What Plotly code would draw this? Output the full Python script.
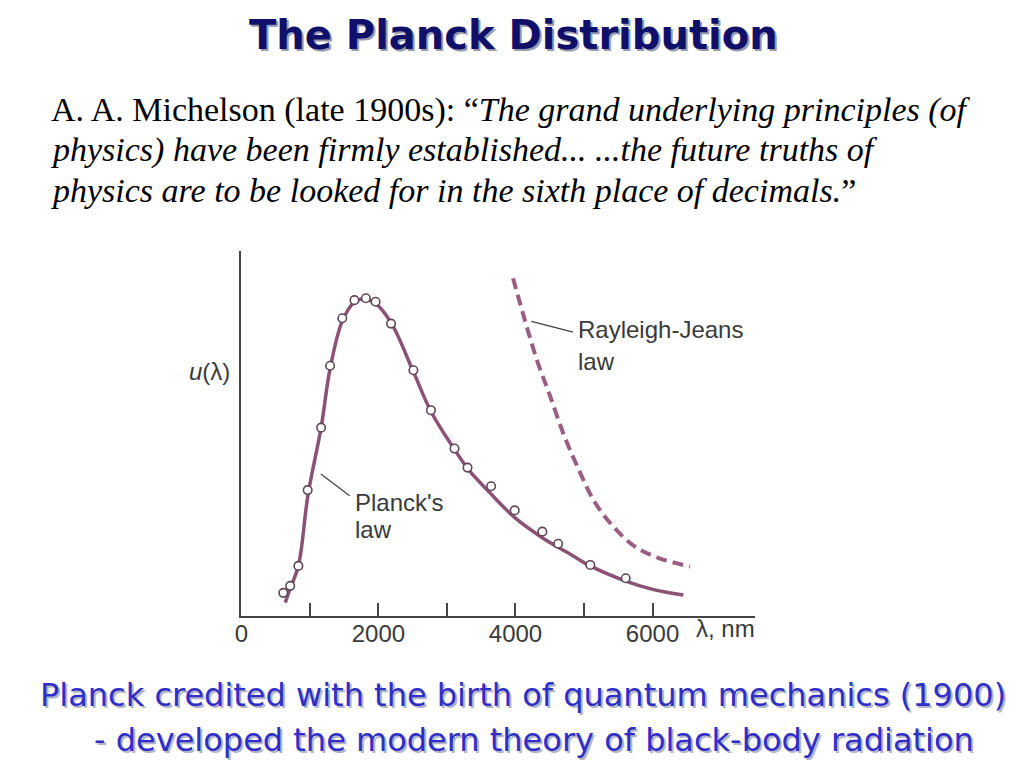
import plotly.graph_objects as go

# ---- data ----
obs_lambda = [611, 712, 831, 967, 1163, 1294, 1472, 1650, 1816, 1958, 2184, 2510,
              2766, 3110, 3300, 3644, 3988, 4392, 4623, 5092, 5608]
obs_u = [0.073, 0.095, 0.158, 0.397, 0.594, 0.789, 0.939, 0.996, 1.002, 0.991, 0.922,
         0.775, 0.649, 0.528, 0.468, 0.409, 0.333, 0.266, 0.228, 0.161, 0.119]

planck_lambda = [640, 700, 833, 970, 1163, 1294, 1472, 1650, 1800, 1960, 2184, 2510,
                 2766, 3110, 3320, 3620, 3990, 4390, 4800, 5090, 5610, 6000, 6450]
planck_u = [0.042, 0.08, 0.16, 0.38, 0.594, 0.78, 0.93, 0.99, 1.0, 0.985, 0.925, 0.77,
            0.645, 0.525, 0.46, 0.39, 0.31, 0.247, 0.195, 0.158, 0.110, 0.084, 0.066]

rj_lambda = [3964, 4142, 4320, 4499, 4706, 4914, 5151, 5448, 5745, 6101, 6546]
rj_u = [1.065, 0.929, 0.802, 0.697, 0.571, 0.466, 0.361, 0.277, 0.219, 0.182, 0.156]

tick_vals = [0, 1000, 2000, 3000, 4000, 5000, 6000]
tick_text = ["0", "", "2000", "", "4000", "", "6000"]

# page is offset by the default 8px body margin
OFF = 8
W, H = 1024 - 2 * OFF, 768 - 2 * OFF


def px(x):
    return (x - OFF) / W


def py(y):
    return 1 - (y - OFF) / H


CURVE = "#8c5275"
DASH = "#9a5f80"
TEXT = "#3a3a3a"

fig = go.Figure()
fig.add_trace(go.Scatter(x=rj_lambda, y=rj_u, mode="lines", line_shape="spline",
                         line=dict(color=DASH, width=4, dash="11px,6px"),
                         hoverinfo="skip", showlegend=False))
fig.add_trace(go.Scatter(x=planck_lambda, y=planck_u, mode="lines", line_shape="spline",
                         line=dict(color=CURVE, width=3.5),
                         hoverinfo="skip", showlegend=False))
fig.add_trace(go.Scatter(x=obs_lambda, y=obs_u, mode="markers",
                         marker=dict(symbol="circle", size=8.5, color="white",
                                     line=dict(color="#5e4654", width=1.6)),
                         hoverinfo="skip", showlegend=False))

# pointer lines for labels
fig.add_trace(go.Scatter(x=[4231, 4840], y=[0.929, 0.895], mode="lines",
                         line=dict(color="#444444", width=1.3), hoverinfo="skip", showlegend=False))
fig.add_trace(go.Scatter(x=[1159, 1580], y=[0.448, 0.379], mode="lines",
                         line=dict(color="#444444", width=1.3), hoverinfo="skip", showlegend=False))

ann = []
# title with shadow
title = "<b>The Planck Distribution</b>"
ann.append(dict(text=title, x=px(512), y=py(37), xref="paper", yref="paper", showarrow=False,
                font=dict(family="DejaVu Sans", size=40, color="#9a9aae"), xanchor="center", yanchor="middle"))
ann.append(dict(text=title, x=px(510), y=py(35), xref="paper", yref="paper", showarrow=False,
                font=dict(family="DejaVu Sans", size=40, color="#10106a"), xanchor="center", yanchor="middle"))

# quote
quote_lines = [
    "A. A. Michelson (late 1900s): \u201c<i>The grand underlying principles (of</i>",
    "<i>physics) have been firmly established... ...the future truths of</i>",
    "<i>physics are to be looked for in the sixth place of decimals.</i>\u201d",
]
for i, ln in enumerate(quote_lines):
    ann.append(dict(text=ln, x=px(42), y=py(110 + 40 * i), xref="paper", yref="paper", showarrow=False,
                    font=dict(family="Liberation Serif", size=34, color="#000000"),
                    xanchor="left", yanchor="middle"))

# bottom lines with shadow
bottom = [("Planck credited with the birth of quantum mechanics (1900)", 520, 695),
          ("- developed the modern theory of black-body radiation", 531, 740)]
for txt, cx, cy in bottom:
    ann.append(dict(text=txt, x=px(cx + 2), y=py(cy + 2), xref="paper", yref="paper", showarrow=False,
                    font=dict(family="DejaVu Sans", size=32, color="#b4b4c8"), xanchor="center", yanchor="middle"))
    ann.append(dict(text=txt, x=px(cx), y=py(cy), xref="paper", yref="paper", showarrow=False,
                    font=dict(family="DejaVu Sans", size=32, color="#2f2fc8"), xanchor="center", yanchor="middle"))

# chart labels
lab_font = dict(family="Liberation Sans", size=24, color=TEXT)
ann.append(dict(text="<i>u</i>(\u03bb)", x=px(204), y=py(371), xref="paper", yref="paper", showarrow=False,
                font=lab_font, xanchor="center", yanchor="middle"))
ann.append(dict(text="\u03bb, nm", x=px(692), y=py(628), xref="paper", yref="paper", showarrow=False,
                font=lab_font, xanchor="left", yanchor="middle"))
ann.append(dict(text="Rayleigh-Jeans", x=4880, y=0.905, xref="x", yref="y", showarrow=False,
                font=lab_font, xanchor="left", yanchor="middle"))
ann.append(dict(text="law", x=4880, y=0.804, xref="x", yref="y", showarrow=False,
                font=lab_font, xanchor="left", yanchor="middle"))
ann.append(dict(text="Planck's", x=1634, y=0.357, xref="x", yref="y", showarrow=False,
                font=lab_font, xanchor="left", yanchor="middle"))
ann.append(dict(text="law", x=1634, y=0.272, xref="x", yref="y", showarrow=False,
                font=lab_font, xanchor="left", yanchor="middle"))

fig.update_layout(
    width=W, height=H,
    margin=dict(l=0, r=0, t=0, b=0),
    paper_bgcolor="white", plot_bgcolor="white",
    annotations=ann,
    xaxis=dict(domain=[px(236), px(753.5)], range=[0, 7500], showgrid=False, zeroline=False,
               showline=True, linecolor="#444444", linewidth=2,
               tickmode="array", tickvals=tick_vals, ticktext=tick_text,
               ticks="inside", ticklen=13, tickwidth=1.5, tickcolor="#444444",
               ticklabelstandoff=-5,
               tickfont=dict(family="Liberation Sans", size=24, color=TEXT), fixedrange=True),
    yaxis=dict(domain=[py(616), py(251)], range=[0, 1.151], showgrid=False, zeroline=False,
               showline=True, linecolor="#444444", linewidth=2, showticklabels=False, ticks="",
               fixedrange=True),
)

fig.write_html("out.html")
